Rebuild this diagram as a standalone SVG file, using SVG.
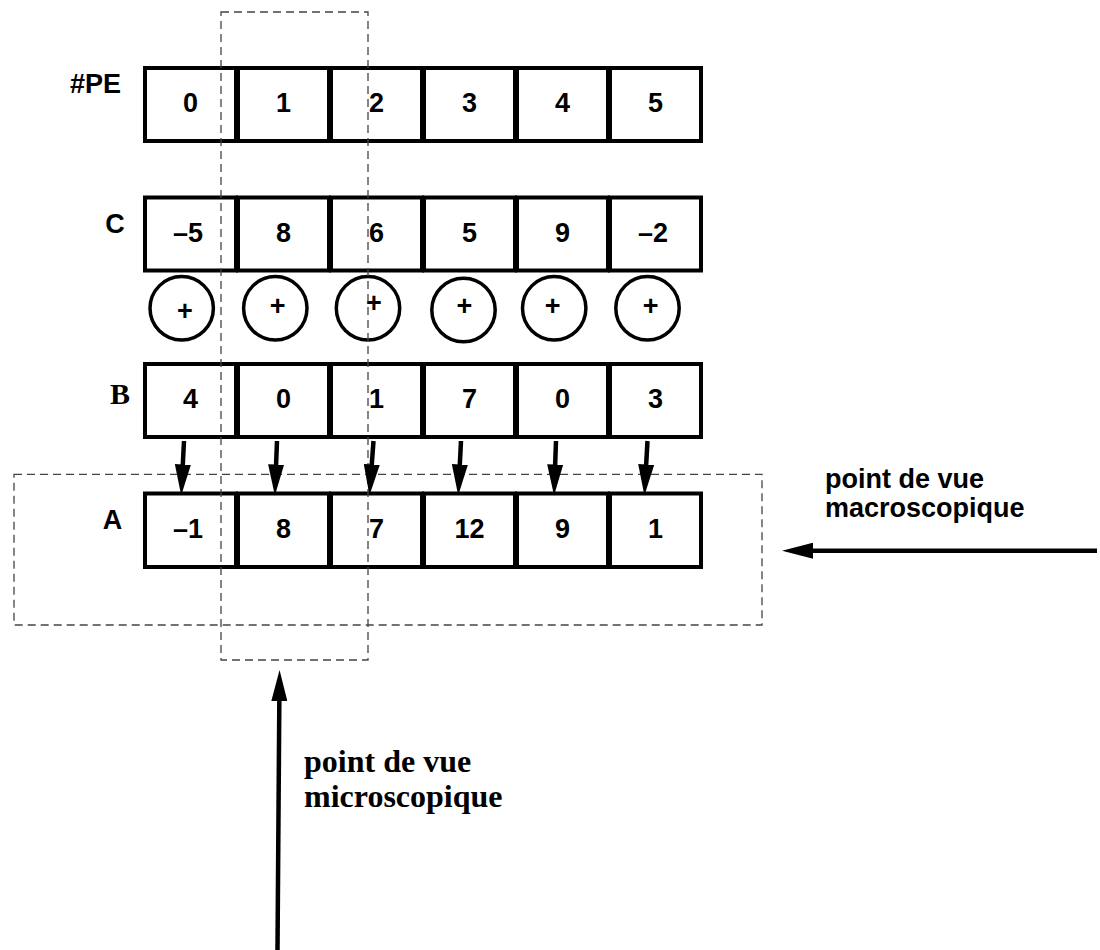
<svg xmlns="http://www.w3.org/2000/svg" width="1100" height="950" viewBox="0 0 1100 950">
<style>
.cell{fill:#fff;stroke:#000;stroke-width:4}
.circ{fill:#fff;stroke:#000;stroke-width:3.5}
.hv{font-family:"Liberation Sans",Arial,Helvetica,sans-serif;font-weight:bold;font-size:27px;fill:#000}
.c{text-anchor:middle}
.tm{font-family:"Liberation Serif","Times New Roman",serif;font-weight:bold;fill:#000}
.dash{fill:none;stroke:#444;stroke-width:1.3;stroke-dasharray:8 5}
.arr{fill:none;stroke:#000;stroke-width:4.5;marker-end:url(#ah)}
</style>
<defs>
<marker id="ah" markerUnits="userSpaceOnUse" markerWidth="32" markerHeight="16" viewBox="0 0 32 16" refX="10" refY="8" orient="auto">
<path d="M0,0 L31,8 L0,16 Z" fill="#000"/>
</marker>
</defs>

<g id="labels">
<text class="hv" x="70" y="93">#PE</text>
<text class="hv c" x="115" y="233">C</text>
<text class="tm c" x="120" y="404" font-size="30">B</text>
<text class="hv c" x="112.5" y="529">A</text>
</g>

<g id="row-PE">
<g id="pe0"><rect class="cell" x="145" y="68" width="91" height="73"/><text class="hv c" x="190.5" y="112">0</text></g>
<g id="pe1"><rect class="cell" x="238" y="68" width="91" height="73"/><text class="hv c" x="283.5" y="112">1</text></g>
<g id="pe2"><rect class="cell" x="331" y="68" width="91" height="73"/><text class="hv c" x="376.5" y="112">2</text></g>
<g id="pe3"><rect class="cell" x="424" y="68" width="91" height="73"/><text class="hv c" x="469.5" y="112">3</text></g>
<g id="pe4"><rect class="cell" x="517" y="68" width="91" height="73"/><text class="hv c" x="562.5" y="112">4</text></g>
<g id="pe5"><rect class="cell" x="610" y="68" width="91" height="73"/><text class="hv c" x="655.5" y="112">5</text></g>
</g>

<g id="row-C">
<g id="c0"><rect class="cell" x="145" y="197.5" width="91" height="73"/><text class="hv c" x="188" y="242">–5</text></g>
<g id="c1"><rect class="cell" x="238" y="197.5" width="91" height="73"/><text class="hv c" x="283.5" y="242">8</text></g>
<g id="c2"><rect class="cell" x="331" y="197.5" width="91" height="73"/><text class="hv c" x="376.5" y="242">6</text></g>
<g id="c3"><rect class="cell" x="424" y="197.5" width="91" height="73"/><text class="hv c" x="469.5" y="242">5</text></g>
<g id="c4"><rect class="cell" x="517" y="197.5" width="91" height="73"/><text class="hv c" x="562.5" y="242">9</text></g>
<g id="c5"><rect class="cell" x="610" y="197.5" width="91" height="73"/><text class="hv c" x="653" y="242">–2</text></g>
</g>

<g id="row-plus">
<g id="p0"><circle class="circ" cx="181.7" cy="308.3" r="31.7"/><text class="hv c" x="185" y="319.5">+</text></g>
<g id="p1"><circle class="circ" cx="275.3" cy="308.3" r="31.7"/><text class="hv c" x="277.7" y="314.5">+</text></g>
<g id="p2"><circle class="circ" cx="368" cy="308.3" r="31.7"/><text class="hv c" x="374" y="312.2">+</text></g>
<g id="p3"><circle class="circ" cx="463.5" cy="310" r="31.7"/><text class="hv c" x="464.3" y="314.5">+</text></g>
<g id="p4"><circle class="circ" cx="554.2" cy="308.3" r="31.7"/><text class="hv c" x="552.7" y="314.5">+</text></g>
<g id="p5"><circle class="circ" cx="647.5" cy="308.3" r="31.7"/><text class="hv c" x="650.7" y="314.5">+</text></g>
</g>

<g id="row-B">
<g id="b0"><rect class="cell" x="145" y="364" width="91" height="73"/><text class="hv c" x="190.5" y="408">4</text></g>
<g id="b1"><rect class="cell" x="238" y="364" width="91" height="73"/><text class="hv c" x="283.5" y="408">0</text></g>
<g id="b2"><rect class="cell" x="331" y="364" width="91" height="73"/><text class="hv c" x="376.5" y="408">1</text></g>
<g id="b3"><rect class="cell" x="424" y="364" width="91" height="73"/><text class="hv c" x="469.5" y="408">7</text></g>
<g id="b4"><rect class="cell" x="517" y="364" width="91" height="73"/><text class="hv c" x="562.5" y="408">0</text></g>
<g id="b5"><rect class="cell" x="610" y="364" width="91" height="73"/><text class="hv c" x="655.5" y="408">3</text></g>
</g>

<g id="row-A">
<g id="a0"><rect class="cell" x="145" y="493.5" width="91" height="73.5"/><text class="hv c" x="188" y="538">–1</text></g>
<g id="a1"><rect class="cell" x="238" y="493.5" width="91" height="73.5"/><text class="hv c" x="283.5" y="538">8</text></g>
<g id="a2"><rect class="cell" x="331" y="493.5" width="91" height="73.5"/><text class="hv c" x="376.5" y="538">7</text></g>
<g id="a3"><rect class="cell" x="424" y="493.5" width="91" height="73.5"/><text class="hv c" x="469.5" y="538">12</text></g>
<g id="a4"><rect class="cell" x="517" y="493.5" width="91" height="73.5"/><text class="hv c" x="562.5" y="538">9</text></g>
<g id="a5"><rect class="cell" x="610" y="493.5" width="91" height="73.5"/><text class="hv c" x="655.5" y="538">1</text></g>
</g>

<g id="view-micro">
<rect class="dash" x="221" y="12" width="147" height="648"/>
<text class="tm" x="304" y="772" font-size="32">point de vue</text>
<text class="tm" x="304" y="807" font-size="32">microscopique</text>
</g>

<g id="view-macro">
<rect class="dash" x="14" y="474.3" width="748" height="150.7"/>
<text class="hv" x="825" y="488" font-size="27.5">point de vue</text>
<text class="hv" x="825" y="517" font-size="27.5">macroscopique</text>
</g>

<g id="connectors">
<line class="arr" x1="184" y1="441" x2="182.3" y2="474.5"/>
<line class="arr" x1="277" y1="441" x2="275.7" y2="474.5"/>
<line class="arr" x1="373.5" y1="441" x2="371" y2="474.5"/>
<line class="arr" x1="461" y1="441" x2="459.3" y2="474.5"/>
<line class="arr" x1="556" y1="441" x2="554.8" y2="474.5"/>
<line class="arr" x1="647.5" y1="441" x2="645.6" y2="474.5"/>
<line class="arr" x1="1097" y1="550.7" x2="803" y2="550.7"/>
<line class="arr" x1="277.5" y1="950" x2="279.4" y2="691"/>
</g>
</svg>
